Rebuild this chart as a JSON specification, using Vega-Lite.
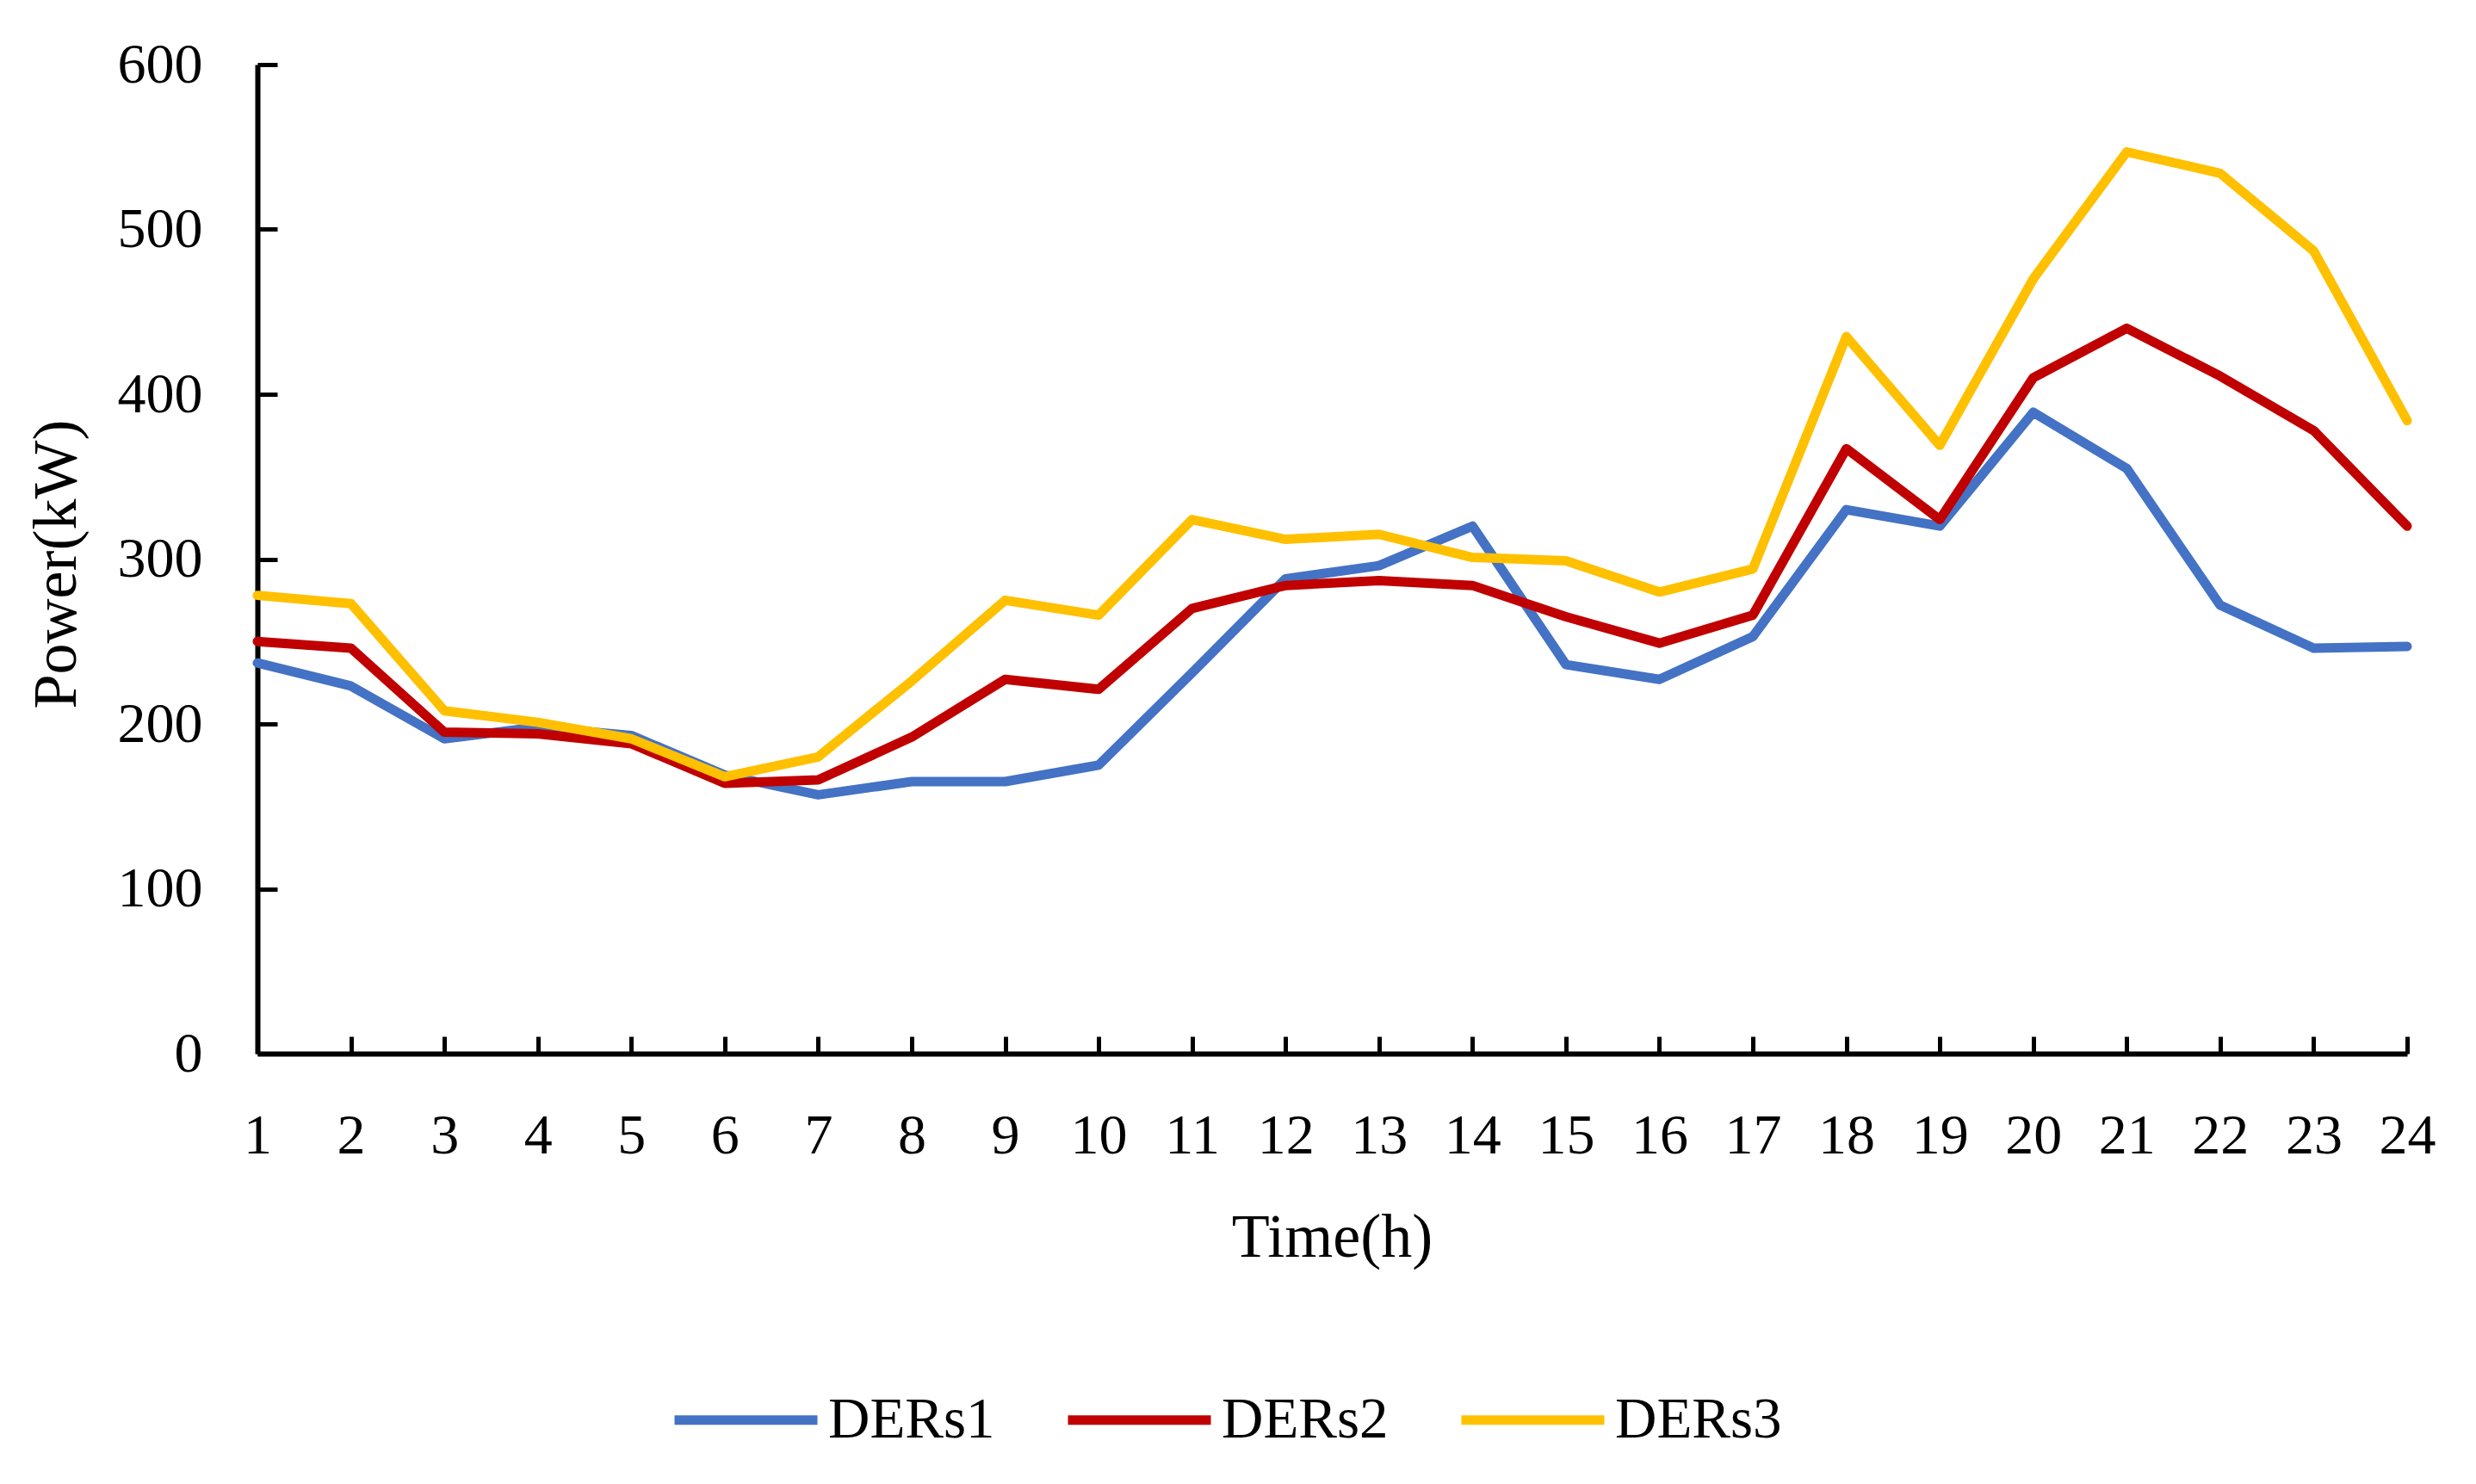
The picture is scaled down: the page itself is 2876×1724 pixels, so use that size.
{
  "$schema": "https://vega.github.io/schema/vega-lite/v6.json",
  "width": 2497,
  "height": 1149,
  "autosize": {"type": "none"},
  "padding": {"left": 299, "top": 75, "right": 80, "bottom": 500},
  "background": "white",
  "config": {
    "view": {"stroke": null},
    "font": "Liberation Serif"
  },
  "data": {
    "values": [
      {"h": 1, "s": "DERs1", "v": 237}, {"h": 2, "s": "DERs1", "v": 223}, {"h": 3, "s": "DERs1", "v": 191}, {"h": 4, "s": "DERs1", "v": 198},
      {"h": 5, "s": "DERs1", "v": 193}, {"h": 6, "s": "DERs1", "v": 169}, {"h": 7, "s": "DERs1", "v": 157}, {"h": 8, "s": "DERs1", "v": 165},
      {"h": 9, "s": "DERs1", "v": 165}, {"h": 10, "s": "DERs1", "v": 175}, {"h": 11, "s": "DERs1", "v": 231}, {"h": 12, "s": "DERs1", "v": 288},
      {"h": 13, "s": "DERs1", "v": 296}, {"h": 14, "s": "DERs1", "v": 320}, {"h": 15, "s": "DERs1", "v": 236}, {"h": 16, "s": "DERs1", "v": 227},
      {"h": 17, "s": "DERs1", "v": 253}, {"h": 18, "s": "DERs1", "v": 330}, {"h": 19, "s": "DERs1", "v": 320}, {"h": 20, "s": "DERs1", "v": 389},
      {"h": 21, "s": "DERs1", "v": 355}, {"h": 22, "s": "DERs1", "v": 272}, {"h": 23, "s": "DERs1", "v": 246}, {"h": 24, "s": "DERs1", "v": 247},
      {"h": 1, "s": "DERs2", "v": 250}, {"h": 2, "s": "DERs2", "v": 246}, {"h": 3, "s": "DERs2", "v": 195}, {"h": 4, "s": "DERs2", "v": 194},
      {"h": 5, "s": "DERs2", "v": 188}, {"h": 6, "s": "DERs2", "v": 164}, {"h": 7, "s": "DERs2", "v": 166}, {"h": 8, "s": "DERs2", "v": 192},
      {"h": 9, "s": "DERs2", "v": 227}, {"h": 10, "s": "DERs2", "v": 221}, {"h": 11, "s": "DERs2", "v": 270}, {"h": 12, "s": "DERs2", "v": 284},
      {"h": 13, "s": "DERs2", "v": 287}, {"h": 14, "s": "DERs2", "v": 284}, {"h": 15, "s": "DERs2", "v": 265}, {"h": 16, "s": "DERs2", "v": 249},
      {"h": 17, "s": "DERs2", "v": 266}, {"h": 18, "s": "DERs2", "v": 367}, {"h": 19, "s": "DERs2", "v": 324}, {"h": 20, "s": "DERs2", "v": 410},
      {"h": 21, "s": "DERs2", "v": 440}, {"h": 22, "s": "DERs2", "v": 411}, {"h": 23, "s": "DERs2", "v": 378}, {"h": 24, "s": "DERs2", "v": 320},
      {"h": 1, "s": "DERs3", "v": 278}, {"h": 2, "s": "DERs3", "v": 273}, {"h": 3, "s": "DERs3", "v": 208}, {"h": 4, "s": "DERs3", "v": 201},
      {"h": 5, "s": "DERs3", "v": 191}, {"h": 6, "s": "DERs3", "v": 168}, {"h": 7, "s": "DERs3", "v": 180}, {"h": 8, "s": "DERs3", "v": 226},
      {"h": 9, "s": "DERs3", "v": 275}, {"h": 10, "s": "DERs3", "v": 266}, {"h": 11, "s": "DERs3", "v": 324}, {"h": 12, "s": "DERs3", "v": 312},
      {"h": 13, "s": "DERs3", "v": 315}, {"h": 14, "s": "DERs3", "v": 301}, {"h": 15, "s": "DERs3", "v": 299}, {"h": 16, "s": "DERs3", "v": 280},
      {"h": 17, "s": "DERs3", "v": 294}, {"h": 18, "s": "DERs3", "v": 435}, {"h": 19, "s": "DERs3", "v": 369}, {"h": 20, "s": "DERs3", "v": 470},
      {"h": 21, "s": "DERs3", "v": 547}, {"h": 22, "s": "DERs3", "v": 534}, {"h": 23, "s": "DERs3", "v": 487}, {"h": 24, "s": "DERs3", "v": 384}
    ]
  },
  "mark": {"type": "line", "strokeWidth": 11, "strokeCap": "round", "strokeJoin": "round"},
  "encoding": {
    "x": {
      "field": "h", "type": "quantitative",
      "scale": {"domain": [1, 24], "nice": false, "zero": false},
      "axis": {
        "values": [1,2,3,4,5,6,7,8,9,10,11,12,13,14,15,16,17,18,19,20,21,22,23,24],
        "format": "d",
        "grid": false,
        "domainColor": "black", "domainWidth": 6,
        "tickColor": "black", "tickWidth": 5, "tickSize": -20,
        "labelFont": "Liberation Serif", "labelFontSize": 66, "labelColor": "black",
        "labelPadding": 83, "labelFlush": false, "labelOverlap": false,
        "title": "Time(h)",
        "titleFont": "Liberation Serif", "titleFontSize": 72, "titleFontWeight": "normal", "titleColor": "black",
        "titleX": 1248, "titleY": 235, "titleBaseline": "alphabetic", "titleAlign": "center"
      }
    },
    "y": {
      "field": "v", "type": "quantitative",
      "scale": {"domain": [0, 600], "nice": false},
      "axis": {
        "values": [0, 100, 200, 300, 400, 500, 600],
        "grid": false,
        "domainColor": "black", "domainWidth": 6,
        "tickColor": "black", "tickWidth": 5, "tickSize": -23,
        "labelFont": "Liberation Serif", "labelFontSize": 66, "labelColor": "black",
        "labelPadding": 87, "labelFlush": false, "labelOverlap": false,
        "title": "Power(kW)",
        "titleFont": "Liberation Serif", "titleFontSize": 72, "titleFontWeight": "normal", "titleColor": "black",
        "titleAngle": -90, "titleX": -212, "titleY": 580, "titleBaseline": "alphabetic", "titleAlign": "center"
      }
    },
    "color": {
      "field": "s", "type": "nominal",
      "scale": {"domain": ["DERs1", "DERs2", "DERs3"], "range": ["#4472C4", "#C00000", "#FFC000"]},
      "legend": {
        "title": null,
        "orient": "none",
        "direction": "horizontal",
        "legendX": 479,
        "legendY": 1486,
        "padding": 0,
        "symbolType": "stroke",
        "symbolSize": 27556,
        "symbolStrokeWidth": 11,
        "labelFont": "Liberation Serif", "labelFontSize": 67, "labelColor": "black",
        "labelOffset": 7, "labelLimit": 500,
        "columnPadding": 62
      }
    }
  }
}
